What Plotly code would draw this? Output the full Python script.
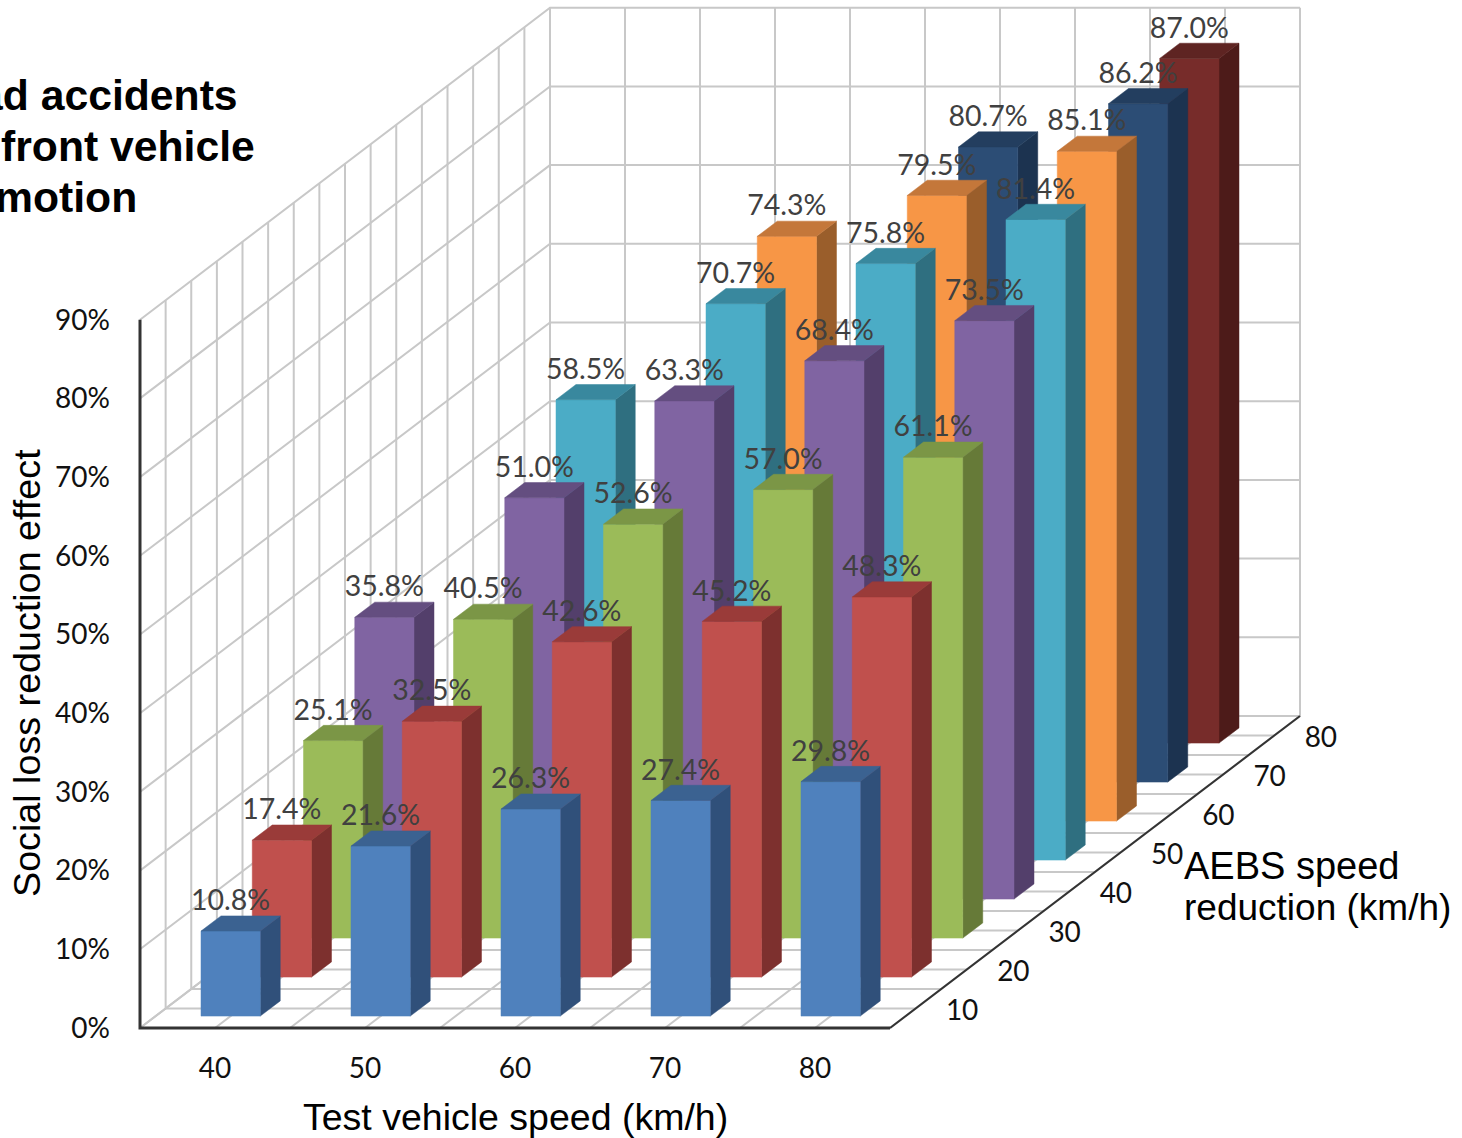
import plotly.graph_objects as go

# ---- data ----
speeds = [40, 50, 60, 70, 80]
reductions = [10, 20, 30, 40, 50, 60, 70, 80]
r10 = [10.8, 21.6, 26.3, 27.4, 29.8]
r20 = [17.4, 32.5, 42.6, 45.2, 48.3]
r30 = [25.1, 40.5, 52.6, 57.0, 61.1]
r40 = [35.8, 51.0, 63.3, 68.4, 73.5]
r50 = [58.5, 70.7, 75.8, 81.4]
r60 = [74.3, 79.5, 85.1]
r70 = [80.7, 86.2]
r80 = [87.0]
series = [r10, r20, r30, r40, r50, r60, r70, r80]
front_colors = ["#4F81BD", "#C0504D", "#9BBB59", "#8064A2", "#4BACC6", "#F79646", "#2C4D75", "#772C2A"]
side_colors = ["#30507A", "#7D302E", "#667A38", "#533F6B", "#2F6F80", "#9A5E2B", "#1C3350", "#4D1B19"]
top_colors = ["#3B6291", "#9A3B39", "#7B9646", "#644E80", "#39889E", "#C4773A", "#233E5F", "#5E2422"]
y_ticks = [0, 10, 20, 30, 40, 50, 60, 70, 80, 90]

W, H = 1462, 1138
# axis scales (px per unit)
PX_X, PX_Y = 15.0, 7.87
X0_PX, Y0_PX = 140.0, 1028.0
x_range = [35 - X0_PX / PX_X, 35 + (W - X0_PX) / PX_X]
y_range = [-(H - Y0_PX) / PX_Y, Y0_PX / PX_Y]
# oblique projection: one depth slot shifts by this many axis units
DX, DY = 51.25 / PX_X, 39.0 / PX_Y
BAR_W, BAR_D = 0.395, 0.39


def pr(x, d, z):
    return x + d * DX, z + d * DY


def path(points):
    xs, ys = [], []
    for p in points:
        a, b = pr(*p)
        xs.append(a)
        ys.append(b)
    return xs, ys


fig = go.Figure()


def line(points, color, width):
    xs, ys = path(points)
    fig.add_trace(go.Scatter(x=xs, y=ys, mode="lines", line=dict(color=color, width=width),
                             hoverinfo="skip", showlegend=False))


GRID = "#C8C8C8"
ZT = y_ticks[-1]
xmin, xmax, dmax = 35, 85, len(reductions)
# walls and floor grid
for z in y_ticks:
    line([(xmin, 0, z), (xmin, dmax, z), (xmax, dmax, z)], GRID, 2)
for i in range(0, 11):
    x = xmin + i * 5
    line([(x, 0, 0), (x, dmax, 0), (x, dmax, ZT)], GRID, 2)
for i in range(0, 17):
    d = i * 0.5
    line([(xmin, d, ZT), (xmin, d, 0), (xmax, d, 0)], GRID, 2)
# front axis lines
line([(xmin, 0, ZT), (xmin, 0, 0), (xmax, 0, 0)], "#333333", 3)
line([(xmax, 0, 0), (xmax, dmax, 0)], "#333333", 2)

# bars, back row first
label_x, label_y, label_t = [], [], []
for k in range(len(series) - 1, -1, -1):
    vals = series[k]
    cats = speeds[len(speeds) - len(vals):]
    d0 = k + 0.5 - BAR_D / 2
    d1 = k + 0.5 + BAR_D / 2
    hw = BAR_W * 5
    fx, fy, sx, sy, tx, ty = [], [], [], [], [], []
    for c, v in zip(cats, vals):
        l, r = c - hw, c + hw
        a, b = path([(l, d0, 0), (r, d0, 0), (r, d0, v), (l, d0, v), (l, d0, 0)])
        fx += a + [None]; fy += b + [None]
        a, b = path([(r, d0, 0), (r, d1, 0), (r, d1, v), (r, d0, v), (r, d0, 0)])
        sx += a + [None]; sy += b + [None]
        a, b = path([(l, d0, v), (r, d0, v), (r, d1, v), (l, d1, v), (l, d0, v)])
        tx += a + [None]; ty += b + [None]
        a, b = pr(c, d0, v)
        label_x.append(a)
        label_y.append(b + 28 / PX_Y)
        label_t.append(f"{v:.1f}%")
    for xs, ys, col in ((sx, sy, side_colors[k]), (fx, fy, front_colors[k]), (tx, ty, top_colors[k])):
        fig.add_trace(go.Scatter(x=xs, y=ys, mode="lines", fill="toself", fillcolor=col,
                                 line=dict(color=col, width=0.5), hoverinfo="skip",
                                 name=f"{reductions[k]}", showlegend=False))

fig.add_trace(go.Scatter(x=label_x, y=label_y, text=label_t, mode="text",
                         textposition="middle center",
                         textfont=dict(family="Lato", size=28.5, color="#404040"),
                         hoverinfo="skip", showlegend=False))
# depth tick labels
dx_l, dy_l = [], []
for i, r in enumerate(reductions):
    a, b = pr(xmax, i + 0.5, 0)
    dx_l.append(a + 46.5 / PX_X)
    dy_l.append(b - 4 / PX_Y)
fig.add_trace(go.Scatter(x=dx_l, y=dy_l, text=[str(r) for r in reductions], mode="text",
                         textposition="middle center",
                         textfont=dict(family="Lato", size=28, color="#111111"),
                         hoverinfo="skip", showlegend=False))

AX = dict(showgrid=False, zeroline=False, showline=False, ticks="")
fig.update_xaxes(range=x_range, domain=[0, 1], tickmode="array", tickvals=speeds,
                 ticktext=[str(s) for s in speeds], anchor="free", position=1 - 1049 / H,
                 tickfont=dict(family="Lato", size=28, color="#111111"), **AX)
fig.update_yaxes(range=y_range, domain=[0, 1], tickmode="array", tickvals=y_ticks,
                 ticktext=[f"{t}%" for t in y_ticks], anchor="free", position=110 / W,
                 tickfont=dict(family="Lato", size=28, color="#111111"), **AX)


def note(text, px, py, size, anchor="left", bold=False, angle=0):
    fig.add_annotation(xref="paper", yref="paper", x=px / W, y=1 - py / H, text=text, showarrow=False,
                       xanchor=anchor, yanchor="middle", textangle=angle, align="left",
                       font=dict(family="Liberation Sans", size=size, color="#000000"))


note("<b>ad accidents</b>", 240, 95, 42.7, "right")
note("<b>front vehicle</b>", 257, 146, 42.7, "right")
note("<b>motion</b>", 139, 197, 42.7, "right")
note("Test vehicle speed (km/h)", 515, 1117, 37.5, "center")
note("Social loss reduction effect", 27, 673, 37.7, "center", angle=-90)
note("AEBS speed", 1182, 866, 38)
note("reduction (km/h)", 1182, 907, 37)

fig.update_layout(width=W, height=H, margin=dict(l=0, r=0, t=0, b=0), autosize=False,
                  paper_bgcolor="white", plot_bgcolor="white", showlegend=False)
fig.write_html("out.html", config=dict(displayModeBar=False),
               post_script="document.body.style.margin='0';document.body.style.overflow='hidden';")
